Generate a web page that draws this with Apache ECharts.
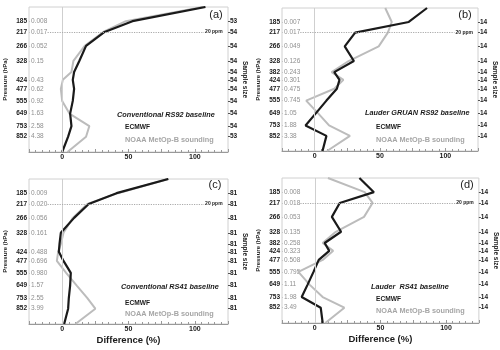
<!DOCTYPE html>
<html>
<head>
<meta charset="utf-8">
<script src="https://cdn.jsdelivr.net/npm/echarts@6/dist/echarts.min.js"></script>
<style>html,body{margin:0;padding:0;background:#fff}#chart{width:500px;height:350px}</style>
</head>
<body>
<div id="chart"></div>
<script>
// pressure levels (hPa) of the labelled rows
const levels = [185, 217, 266, 328, 382, 424, 477, 555, 649, 753, 852]
// profile vertices: top of plot, the levels, surface
const profileP = [150, 185, 217, 266, 328, 382, 424, 477, 555, 649, 753, 852, 1013.25]

// left labels (null = not shown)
const presA = ['185', '217', '266', '328', null, '424', '477', '555', '649', '753', '852']
const presB = ['185', '217', '266', '328', '382', '424', '477', '555', '649', '753', '852']
const wvA = ['0.008', '0.017', '0.052', '0.15', null, '0.43', '0.62', '0.92', '1.63', '2.58', '4.38']
const wvB = ['0.007', '0.017', '0.049', '0.126', '0.243', '0.301', '0.475', '0.745', '1.05', '1.88', '3.38']
const wvC = ['0.009', '0.020', '0.056', '0.161', null, '0.488', '0.696', '0.980', '1.57', '2.55', '3.99']
const wvD = ['0.008', '0.018', '0.053', '0.135', '0.258', '0.323', '0.508', '0.795', '1.11', '1.98', '3.49']

// sample size (right labels)
const nA = [53, 54, 54, 54, 54, 54, 54, 54, 54, 54, 53]
const nB = [14, 14, 14, 14, 14, 14, 14, 14, 14, 14, 14]
const nC = [81, 81, 81, 81, 81, 81, 81, 81, 81, 81, 81]
const nD = [14, 14, 14, 14, 14, 14, 14, 14, 14, 14, 14]

// difference (%) at profileP
const ecmwfA = [108, 53, 32, 18, 13, 9, 8, 9, 8, 6, 7, 4.5, 0]
const noaaA = [106, 48, 31, 17, 8.5, 7, 0.5, -1, 0, 5.5, 20.5, 18, 4]
const ecmwfB = [86, 72, 31, 23, 30, 15, 19, 17, 9, 1, -7, 9, 6]
const noaaB = [54, 59, 56, 49, 26, 13, 22, 15, -6.5, 2.5, 11, 27, 9.5]
const ecmwfC = [80, 41, 20, 9, -1, -2, -2.5, 1, 6.5, 6, 5, 4.5, 1.5]
const noaaC = [80, 42, 19, 8, 1, -1, -3, -4, 3, 11, 19, 25, 10]
const ecmwfD = [34, 45, 19, 13, 20, 7.5, 11, 3, -1, -5.5, -10, 4.5, 6]
const noaaD = [10, 38, 44, 37.5, 16, 6, 14, 6, -12.5, -4, 6, 22.5, 8]

const ppmLevel = 217
const ppmSpan = [-11, 107]

const FONT = 'Liberation Sans'
const BLACK = '#1a1a1a'
const GRAY = '#bcbcbc'

// standard atmosphere height (km) for a pressure (hPa)
function alt(p) {
	if (p >= 226.32) return 44.3308 * (1 - Math.pow(p / 1013.25, 0.190263))
	return 11 + 6.3416 * Math.log(226.32 / p)
}
const yMax = alt(profileP[0])

function labelAxis(labels) {
	const vals = []
	const map = {}
	levels.forEach((p, i) => {
		if (labels[i] == null) return
		const a = alt(p)
		vals.push(a)
		map[a.toFixed(4)] = labels[i]
	})
	return { vals, fmt: (v) => map[(+v).toFixed(4)] || '' }
}

const panels = [
	{ grid: { left: 29, top: 7, width: 199, height: 145 }, pres: presA, wv: wvA, n: nA, ec: ecmwfA, noaa: noaaA,
		tag: '(a)', tagPos: [216, 15], title: 'Conventional RS92 baseline', tPos: [117, 115], ePos: [125, 127], nPos: [125, 140], xName: '' },
	{ grid: { left: 282, top: 8, width: 196, height: 143 }, pres: presB, wv: wvB, n: nB, ec: ecmwfB, noaa: noaaB,
		tag: '(b)', tagPos: [465, 15], title: 'Lauder GRUAN RS92 baseline', tPos: [365, 113], ePos: [376, 127], nPos: [376, 140], xName: '' },
	{ grid: { left: 29, top: 179, width: 199, height: 145 }, pres: presA, wv: wvC, n: nC, ec: ecmwfC, noaa: noaaC,
		tag: '(c)', tagPos: [215, 185], title: 'Conventional RS41 baseline', tPos: [121, 287], ePos: [125, 303], nPos: [125, 314], xName: 'Difference (%)' },
	{ grid: { left: 282, top: 178, width: 197, height: 145 }, pres: presB, wv: wvD, n: nD, ec: ecmwfD, noaa: noaaD,
		tag: '(d)', tagPos: [467, 185], title: 'Lauder  RS41 baseline', tPos: [371, 287], ePos: [376, 299], nPos: [376, 311], xName: 'Difference (%)' }
]

const grid = []
const xAxis = []
const yAxis = []
const series = []
const graphic = []

panels.forEach((pn, k) => {
	grid.push(Object.assign({ show: true, borderColor: '#d0d0d0', borderWidth: 1, containLabel: false }, pn.grid))

	xAxis.push({
		type: 'value', gridIndex: k, min: -25, max: 125, interval: 25,
		name: pn.xName, nameLocation: 'middle', nameGap: 11,
		nameTextStyle: { fontFamily: FONT, fontWeight: 'bold', fontSize: 9.5, color: BLACK },
		axisLine: { show: true, lineStyle: { color: '#999', width: 1 } },
		axisTick: { show: true, inside: true, length: 3, lineStyle: { color: '#999' } },
		minorTick: { show: true, splitNumber: 5, length: 2, lineStyle: { color: '#999' } },
		splitLine: { show: false },
		axisLabel: {
			margin: 2, fontFamily: FONT, fontWeight: 'bold', fontSize: 7, color: BLACK,
			formatter: (v) => (v === 0 || v === 50 || v === 100 ? String(v) : '')
		}
	})

	const pAx = labelAxis(pn.pres)
	const wAx = labelAxis(pn.wv)
	const nAx = labelAxis(pn.n.map(String))

	const base = { type: 'value', gridIndex: k, min: 0, max: yMax, splitLine: { show: false }, axisLine: { show: false } }
	yAxis.push(Object.assign({}, base, {
		position: 'left',
		name: 'Pressure (hPa)', nameLocation: 'middle', nameGap: 21, nameRotate: 90,
		nameTextStyle: { fontFamily: FONT, fontWeight: 'bold', fontSize: 6, color: BLACK },
		axisTick: { show: false },
		axisLabel: { customValues: pAx.vals, formatter: pAx.fmt, margin: 2, fontFamily: FONT, fontWeight: 'bold', fontSize: 6.5, color: BLACK }
	}))
	yAxis.push(Object.assign({}, base, {
		position: 'left',
		axisTick: { show: true, inside: true, length: 1, customValues: wAx.vals, lineStyle: { color: '#c8c8c8' } },
		axisLabel: { inside: true, customValues: wAx.vals, formatter: wAx.fmt, margin: 2, fontFamily: FONT, fontSize: 6.5, color: '#8f8f8f' }
	}))
	yAxis.push(Object.assign({}, base, {
		position: 'right',
		name: 'Sample size', nameLocation: 'middle', nameGap: 11, nameRotate: -90,
		nameTextStyle: { fontFamily: FONT, fontWeight: 'bold', fontSize: 6.5, color: BLACK },
		axisTick: { show: true, length: 2, customValues: nAx.vals, lineStyle: { color: '#555' } },
		axisLabel: { customValues: nAx.vals, formatter: nAx.fmt, margin: 2, fontFamily: FONT, fontWeight: 'bold', fontSize: 6.5, color: BLACK }
	}))

	const toData = (arr) => arr.map((v, i) => [v, alt(profileP[i])])

	series.push({
		type: 'line', name: 'NOAA', xAxisIndex: k, yAxisIndex: 3 * k,
		data: toData(pn.noaa), showSymbol: false, silent: true,
		lineStyle: { color: GRAY, width: 2 }, z: 3,
		markLine: {
			silent: true, symbol: 'none', animation: false,
			data: [
				{ xAxis: 0, lineStyle: { color: '#cfcfcf', width: 1, type: 'solid' }, label: { show: false } }
			]
		}
	})
	series.push({
		type: 'line', name: 'ECMWF', xAxisIndex: k, yAxisIndex: 3 * k,
		data: toData(pn.ec), showSymbol: false, silent: true,
		lineStyle: { color: BLACK, width: 2.2 }, z: 4,
		markLine: {
			silent: true, symbol: 'none', animation: false,
			data: [[
				{ coord: [ppmSpan[0], alt(ppmLevel)], lineStyle: { color: '#aaa', width: 1.2, type: 'dotted' },
					label: { show: true, position: 'end', formatter: '20 ppm', distance: 1, fontFamily: FONT, fontWeight: 'bold', fontSize: 5, color: BLACK } },
				{ coord: [ppmSpan[1], alt(ppmLevel)] }
			]]
		}
	})

	graphic.push(
		{ type: 'text', x: pn.tagPos[0], y: pn.tagPos[1], style: { text: pn.tag, font: '11px ' + FONT, fill: '#222', textAlign: 'center', textVerticalAlign: 'middle' } },
		{ type: 'text', x: pn.tPos[0], y: pn.tPos[1], style: { text: pn.title, font: 'italic bold 7.3px ' + FONT, fill: BLACK, textAlign: 'left', textVerticalAlign: 'middle' } },
		{ type: 'text', x: pn.ePos[0], y: pn.ePos[1], style: { text: 'ECMWF', font: 'bold 6.6px ' + FONT, fill: BLACK, textAlign: 'left', textVerticalAlign: 'middle' } },
		{ type: 'text', x: pn.nPos[0], y: pn.nPos[1], style: { text: 'NOAA MetOp-B sounding', font: 'bold 7.3px ' + FONT, fill: '#a6a6a6', textAlign: 'left', textVerticalAlign: 'middle' } }
	)
})

const chart = echarts.init(document.getElementById('chart'), null, { renderer: 'canvas' })
chart.setOption({
	animation: false,
	backgroundColor: '#fff',
	grid, xAxis, yAxis, series, graphic
})
</script>
</body>
</html>
